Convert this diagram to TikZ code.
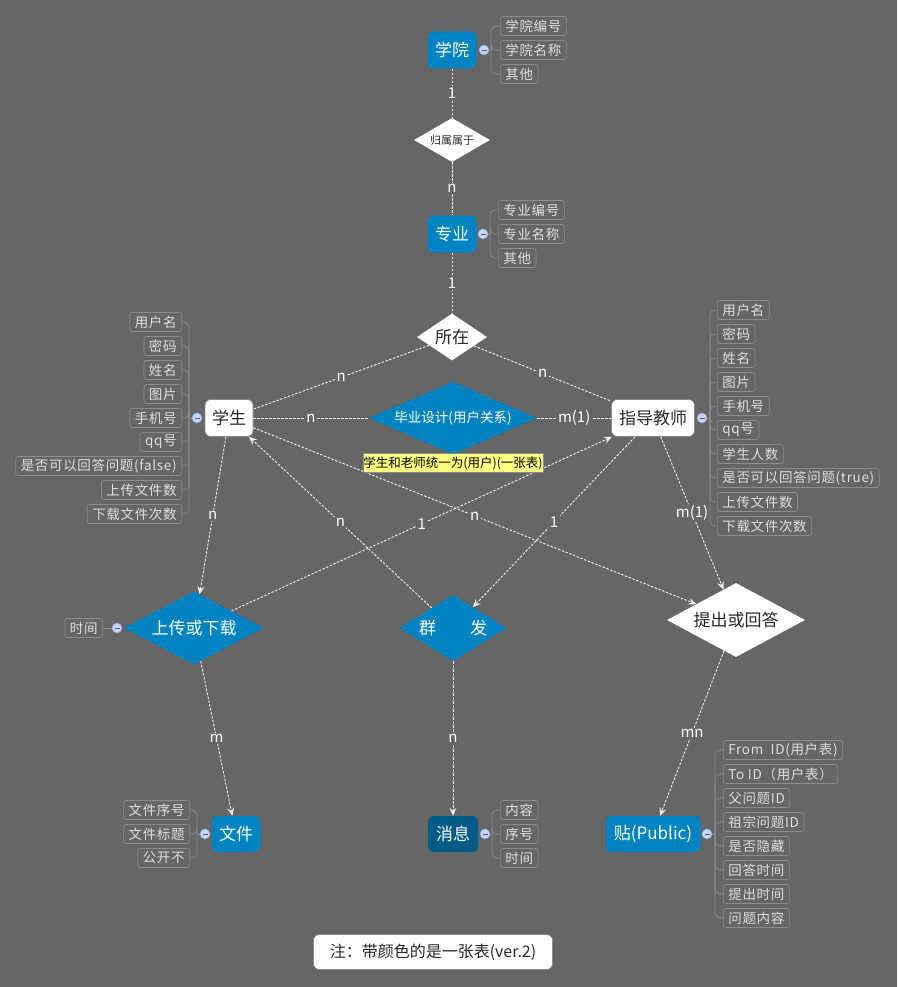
\documentclass[tikz,border=0pt]{standalone}
\usepackage{fontspec}
\setmainfont{Noto Sans CJK SC}
\usetikzlibrary{shapes.geometric,arrows.meta}
\definecolor{bg}{RGB}{102,102,102}
\definecolor{eblue}{RGB}{0,132,193}
\definecolor{edark}{RGB}{0,91,135}
\definecolor{attrborder}{RGB}{140,140,140}
\definecolor{attrtext}{RGB}{222,222,222}
\definecolor{minusfill}{RGB}{200,214,242}
\definecolor{minusdraw}{RGB}{140,165,215}
\definecolor{minusline}{RGB}{70,90,140}
\definecolor{conncol}{RGB}{240,240,240}
\definecolor{darktext}{RGB}{40,40,40}
\definecolor{noteyellow}{RGB}{255,255,128}
\newcommand\myattrfont{\fontsize{13.5}{14}\selectfont\addfontfeature{LetterSpace=5}}
\newcommand\mybigfont{\fontsize{17}{18}\selectfont}
\newcommand\mylblfont{\fontsize{15}{16}\selectfont}
\tikzset{
  ent/.style={rounded corners=6pt, fill=eblue, text=white, font=\mybigfont, minimum height=37pt, inner sep=0pt},
  went/.style={rounded corners=6pt, fill=white, draw=attrborder, line width=0.6pt, text=darktext, font=\mybigfont, minimum height=37pt, inner sep=0pt},
  rel/.style={diamond, aspect=2, inner sep=0pt, fill=eblue, text=white, font=\mybigfont},
  wrel/.style={diamond, aspect=2, inner sep=0pt, fill=white, text=darktext, font=\mybigfont},
  attr/.style={draw=attrborder, line width=0.7pt, rounded corners=2.5pt, text=attrtext, font=\myattrfont, minimum height=19pt, inner xsep=5pt, inner ysep=0pt},
  attrline/.style={draw=attrborder, line width=0.7pt, rounded corners=5pt},
  minus/.style={circle, minimum size=10pt, inner sep=0pt, fill=minusfill, draw=minusdraw, line width=0.6pt,
    path picture={\draw[minusline, line width=0.9pt] ([xshift=-2.5pt]path picture bounding box.center) -- ([xshift=2.5pt]path picture bounding box.center);}},
  conn/.style={draw=conncol, line width=0.9pt, dash pattern=on 2.5pt off 1.5pt},
  arr/.style={-{Stealth[length=8pt,width=7pt,inset=3pt]}},
  lbl/.style={fill=bg, text=white, font=\mylblfont, inner sep=1.5pt, midway}
}
\begin{document}
\begin{tikzpicture}[x=1pt,y=-1pt]
\fill[bg] (0,0) rectangle (897,987);
\useasboundingbox (0,0) rectangle (897,987);

% entities and relations
\node[ent, minimum width=49pt] (xueyuan) at (452,50) {学院};
\node[wrel, minimum width=76pt, minimum height=44pt, font=\fontsize{11}{12}\selectfont] (guishu) at (452,140) {归属属于};
\node[ent, minimum width=49pt] (zhuanye) at (452,234) {专业};
\node[wrel, minimum width=70pt, minimum height=47pt] (suozai) at (452,337) {所在};
\node[went, minimum width=48pt] (xuesheng) at (229,418) {学生};
\node[rel, minimum width=168pt, minimum height=68pt, font=\fontsize{13.5}{14}\selectfont] (bysj) at (453,418) {毕业设计(用户关系)};
\node[went, minimum width=83pt] (teacher) at (653,418) {指导教师};
\node[rel, minimum width=140pt, minimum height=73pt] (upload) at (194,628) {上传或下载};
\node[rel, minimum width=107pt, minimum height=66pt] (qunfa) at (453,628) {群\hspace{2em}发};
\node[wrel, minimum width=138pt, minimum height=74pt] (tichu) at (736,620) {提出或回答};
\node[ent, minimum width=49pt, minimum height=36pt] (wenjian) at (236,834) {文件};
\node[ent, fill=edark, minimum width=50pt, minimum height=36pt] (xiaoxi) at (453,834) {消息};
\node[ent, minimum width=95pt, minimum height=36pt] (tie) at (653,834) {贴(Public)};

% connectors
\draw[conn] (xueyuan) -- node[lbl]{1} (guishu);
\draw[conn] (guishu) -- node[lbl]{n} (zhuanye);
\draw[conn] (zhuanye) -- node[lbl]{1} (suozai);
\draw[conn] (suozai) -- node[lbl]{n} (xuesheng);
\draw[conn] (suozai) -- node[lbl]{n} (teacher);
\draw[conn] (xuesheng) -- node[lbl]{n} (bysj);
\draw[conn] (bysj) -- node[lbl]{m(1)} (teacher);
\draw[conn,arr] (xuesheng) -- node[lbl]{n} (upload);
\draw[conn,arr] (upload) -- node[lbl]{1} (teacher);
\draw[conn,arr] (qunfa) -- node[lbl]{n} (xuesheng);
\draw[conn,arr] (teacher) -- node[lbl]{1} (qunfa);
\draw[conn,arr] (xuesheng) -- node[lbl]{n} (tichu);
\draw[conn,arr] (teacher) -- node[lbl]{m(1)} (tichu);
\draw[conn,arr] (upload) -- node[lbl]{m} (wenjian);
\draw[conn,arr] (qunfa) -- node[lbl]{n} (xiaoxi);
\draw[conn,arr] (tichu) -- node[lbl]{mn} (tie);

\node[fill=noteyellow, draw=attrborder, line width=0.6pt, text=black, font=\fontsize{12.5}{13}\selectfont, minimum height=19pt, minimum width=180pt, inner sep=0pt] (note1) at (453,463) {学生和老师统一为(用户)(一张表)};

% 学院 attributes
\node[minus] (m1) at (484,50) {};
\coordinate (s1) at (491,50);
\draw[attrline] (m1) -- (s1);
\foreach \t [count=\i from 0] in {学院编号,学院名称,其他}{
  \node[attr, anchor=west] (a1\i) at (500,{26+24*\i}) {\t};
  \draw[attrline] (s1) |- (a1\i.west);
}
% 专业 attributes
\node[minus] (m2) at (483,234) {};
\coordinate (s2) at (490,234);
\draw[attrline] (m2) -- (s2);
\foreach \t [count=\i from 0] in {专业编号,专业名称,其他}{
  \node[attr, anchor=west] (a2\i) at (498,{210+24*\i}) {\t};
  \draw[attrline] (s2) |- (a2\i.west);
}
% 学生 attributes
\node[minus] (m3) at (197,418) {};
\coordinate (s3) at (189,418);
\draw[attrline] (m3) -- (s3);
\foreach \t [count=\i from 0] in {用户名,密码,姓名,图片,手机号,qq号,是否可以回答问题(false),上传文件数,下载文件次数}{
  \node[attr, anchor=east] (a3\i) at (182,{322+24*\i}) {\t};
  \draw[attrline] (s3) |- (a3\i.east);
}
% 指导教师 attributes
\node[minus] (m4) at (702,418) {};
\coordinate (s4) at (710,418);
\draw[attrline] (m4) -- (s4);
\foreach \t [count=\i from 0] in {用户名,密码,姓名,图片,手机号,qq号,学生人数,是否可以回答问题(true),上传文件数,下载文件次数}{
  \node[attr, anchor=west] (a4\i) at (717,{310+24*\i}) {\t};
  \draw[attrline] (s4) |- (a4\i.west);
}
% 上传或下载 attribute
\node[minus] (m5) at (117,628) {};
\node[attr, anchor=east] (a50) at (103,628) {时间};
\draw[attrline] (m5) -- (a50);
% 文件 attributes
\node[minus] (m6) at (205,834) {};
\coordinate (s6) at (197,834);
\draw[attrline] (m6) -- (s6);
\foreach \t [count=\i from 0] in {文件序号,文件标题,公开不}{
  \node[attr, anchor=east] (a6\i) at (190,{810+24*\i}) {\t};
  \draw[attrline] (s6) |- (a6\i.east);
}
% 消息 attributes
\node[minus] (m7) at (485,834) {};
\coordinate (s7) at (492,834);
\draw[attrline] (m7) -- (s7);
\foreach \t [count=\i from 0] in {内容,序号,时间}{
  \node[attr, anchor=west] (a7\i) at (500,{810+24*\i}) {\t};
  \draw[attrline] (s7) |- (a7\i.west);
}
% 贴 attributes
\node[minus] (m8) at (707,834) {};
\coordinate (s8) at (715,834);
\draw[attrline] (m8) -- (s8);
\foreach \t [count=\i from 0] in {From\ \ ID(用户表),To ID（用户表）,父问题ID,祖宗问题ID,是否隐藏,回答时间,提出时间,问题内容}{
  \node[attr, anchor=west] (a8\i) at (723,{750+24*\i}) {\t};
  \draw[attrline] (s8) |- (a8\i.west);
}

% bottom note
\node[fill=white, draw=attrborder, line width=0.6pt, rounded corners=6pt, text=darktext, font=\fontsize{16}{17}\selectfont, minimum width=239pt, minimum height=35pt, inner sep=0pt] (note2) at (433,952) {注：带颜色的是一张表(ver.2)};
\end{tikzpicture}
\end{document}
